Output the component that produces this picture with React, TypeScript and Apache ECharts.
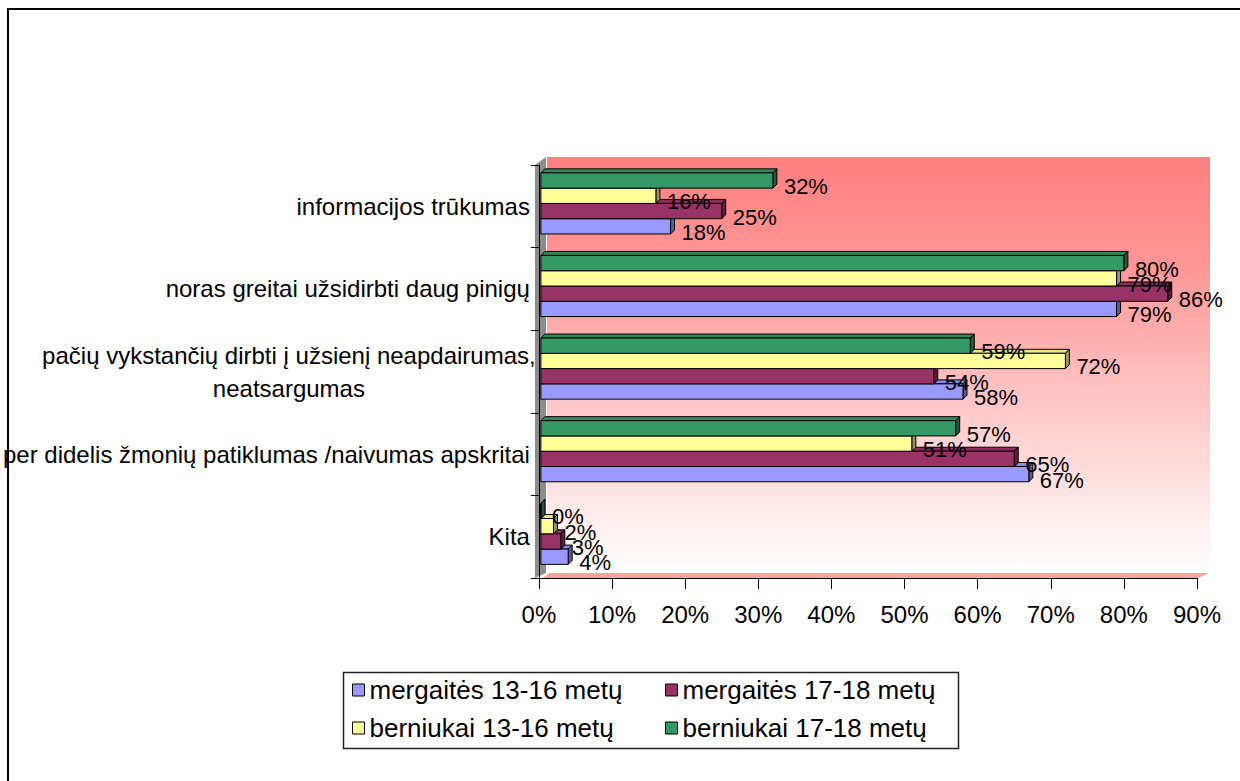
import React, { useEffect, useRef } from 'react';
import * as echarts from 'echarts';

const categories = [
  'informacijos trūkumas',
  'noras greitai užsidirbti daug pinigų',
  'pačių vykstančių dirbti į užsienį neapdairumas,\nneatsargumas',
  'per didelis žmonių patiklumas /naivumas apskritai',
  'Kita',
];
const seriesNames = [
  'mergaitės 13-16 metų',
  'mergaitės 17-18 metų',
  'berniukai 13-16 metų',
  'berniukai 17-18 metų',
];
const girls1316 = [18, 79, 58, 67, 4];
const girls1718 = [25, 86, 54, 65, 3];
const boys1316 = [16, 79, 72, 51, 2];
const boys1718 = [32, 80, 59, 57, 0];
const seriesValues = [girls1316, girls1718, boys1316, boys1718];

const frontColors = ['#9999FF', '#993366', '#FFFF99', '#339966'];
const topColors = ['#8A8AE6', '#8A2E5C', '#E6E68A', '#2E8A5C'];
const sideColors = ['#5C5C99', '#5C1F3D', '#99995C', '#1F5C3D'];

const FONT = '"Liberation Sans", Arial, sans-serif';

function makeRender(idx: number) {
  return (params: any, api: any) => {
    const val = api.value(0);
    const cat = api.value(1);
    const start = api.coord([0, cat]);
    const end = api.coord([val, cat]);
    const bandH = api.size([0, 1])[1];
    const barH = bandH * 0.185;
    const yc = start[1] - bandH * 0.035;
    const y0 = yc + 2 * barH - (idx + 1) * barH;
    const x0 = start[0] + 2;
    const x1 = Math.max(end[0], x0);
    const d = 4;
    return {
      type: 'group',
      children: [
        {
          type: 'polygon',
          shape: { points: [[x0, y0], [x0 + d, y0 - d], [x1 + d, y0 - d], [x1, y0]] },
          style: { fill: topColors[idx], stroke: '#000', lineWidth: 1 },
        },
        {
          type: 'polygon',
          shape: { points: [[x1, y0], [x1 + d, y0 - d], [x1 + d, y0 + barH - d], [x1, y0 + barH]] },
          style: { fill: sideColors[idx], stroke: '#000', lineWidth: 1 },
        },
        {
          type: 'rect',
          shape: { x: x0, y: y0, width: x1 - x0, height: barH },
          style: { fill: frontColors[idx], stroke: '#000', lineWidth: 1 },
        },
        {
          type: 'text',
          x: x1 + d + 7,
          y: y0 + barH / 2 + 6,
          z2: 100,
          style: {
            text: val + '%',
            fill: '#000',
            font: '22px ' + FONT,
            align: 'left',
            verticalAlign: 'middle',
          },
        },
      ],
    };
  };
}

export default function App() {
  const ref = useRef<HTMLDivElement>(null);
  useEffect(() => {
    if (!ref.current) return;
    const chart = echarts.init(ref.current, undefined, { renderer: 'svg' });
    const legendCommon = {
      orient: 'vertical',
      itemWidth: 12,
      itemHeight: 12,
      itemGap: 8,
      padding: 0,
      icon: 'rect',
      itemStyle: { borderColor: '#000', borderWidth: 1 },
      textStyle: { fontSize: 26, fontFamily: FONT, color: '#000', lineHeight: 30 },
      top: 675,
    };
    chart.setOption({
      animation: false,
      backgroundColor: '#fff',
      textStyle: { fontFamily: FONT },
      grid: { left: 535, right: 43, top: 165, bottom: 203, containLabel: false },
      xAxis: {
        type: 'value',
        min: 0,
        max: 90,
        interval: 10,
        axisLine: { show: true, lineStyle: { color: '#000', width: 1 } },
        axisTick: { show: true, length: 11, lineStyle: { color: '#000' } },
        splitLine: { show: false },
        axisLabel: { formatter: '{value}%', fontSize: 24, color: '#000', margin: 24, fontFamily: FONT },
      },
      yAxis: {
        type: 'category',
        data: categories,
        inverse: true,
        axisLine: { show: true, lineStyle: { color: '#000', width: 1 } },
        axisTick: { show: true, length: 8, lineStyle: { color: '#000' } },
        axisLabel: {
          fontSize: 24,
          color: '#000',
          margin: 9,
          fontFamily: FONT,
          lineHeight: 33,
          formatter: (v: string) =>
            v.includes('\n') ? v.split('\n').map((s) => `{c|${s}}`).join('\n') : v,
          rich: {
            c: { width: 482, align: 'center', fontSize: 24, fontFamily: FONT, color: '#000', lineHeight: 33 },
          },
        },
      },
      legend: [
        { ...legendCommon, left: 352, data: [seriesNames[0], seriesNames[2]] },
        { ...legendCommon, left: 665, data: [seriesNames[1], seriesNames[3]] },
      ],
      graphic: [
        {
          type: 'rect',
          z: -5,
          shape: { x: 8, y: 9, width: 1400, height: 1000 },
          style: { fill: 'none', stroke: '#000', lineWidth: 2 },
        },
        {
          type: 'rect',
          z: -5,
          shape: { x: 547, y: 157, width: 663, height: 416 },
          style: {
            fill: new echarts.graphic.LinearGradient(0, 0, 0, 1, [
              { offset: 0, color: '#FF8080' },
              { offset: 0.25, color: '#FF9595' },
              { offset: 0.6, color: '#FFC8C8' },
              { offset: 1, color: '#FFFFFF' },
            ]),
          },
        },
        {
          type: 'polygon',
          z: -4,
          shape: { points: [[535, 165], [546, 157], [546, 573], [535, 578]] },
          style: { fill: '#8C8C8C' },
        },
        {
          type: 'polygon',
          z: -4,
          shape: { points: [[543, 578], [549, 573], [1209, 573], [1198, 578]] },
          style: { fill: '#FFA0A0' },
        },
        {
          type: 'rect',
          z: -5,
          shape: { x: 343.5, y: 672.5, width: 615, height: 76 },
          style: { fill: '#fff', stroke: '#222', lineWidth: 1.5 },
        },
      ],
      series: seriesNames.map((name, idx) => ({
        type: 'custom',
        name,
        coordinateSystem: 'cartesian2d',
        itemStyle: { color: frontColors[idx] },
        encode: { x: 0, y: 1 },
        renderItem: makeRender(idx),
        data: seriesValues[idx].map((v, i) => [v, i]),
        z: 3,
      })),
    });
    return () => chart.dispose();
  }, []);
  return (
    <div
      ref={ref}
      style={{ position: 'absolute', left: 0, top: 0, width: 1240, height: 781 }}
    />
  );
}
